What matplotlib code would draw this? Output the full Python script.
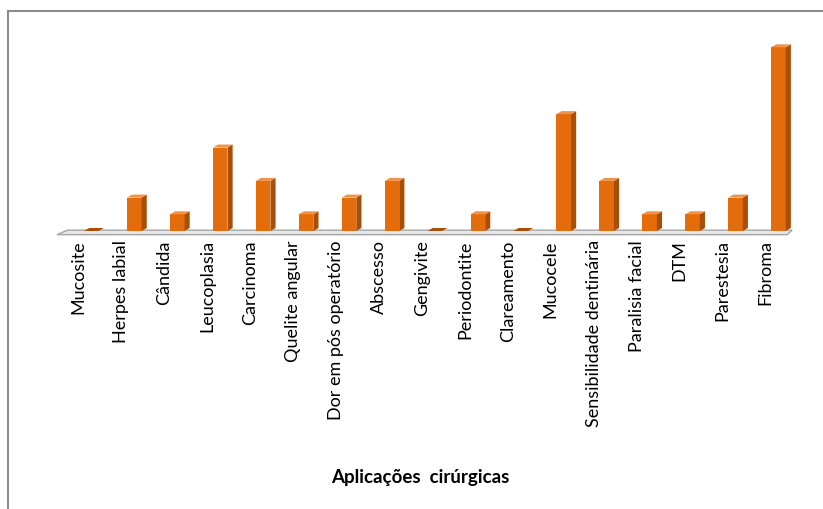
import matplotlib.pyplot as plt
from matplotlib.patches import Polygon, Rectangle

categorias = ["Mucosite", "Herpes labial", "Cândida", "Leucoplasia", "Carcinoma",
              "Quelite angular", "Dor em pós operatório", "Abscesso", "Gengivite",
              "Periodontite", "Clareamento", "Mucocele", "Sensibilidade dentinária",
              "Paralisia facial", "DTM", "Parestesia", "Fibroma"]
valores = [0, 2, 1, 5, 3, 1, 2, 3, 0, 1, 0, 7, 3, 1, 1, 2, 11]

frente = "#E46C0A"
lado = "#A94E06"
topo = "#F2914A"

fig = plt.figure(figsize=(8.23, 5.10), dpi=100)
ax = fig.add_axes([57/823, (510-232)/510, 730/823, 192/510])
n = len(categorias)
ax.set_xlim(-0.5, n - 0.5)
ax.set_ylim(0, 11.5)
ax.axis("off")

# profundidade do efeito 3D
dx, dy = 0.12, 0.18
w = 0.34
off = 0.3

# piso cinza
piso = Polygon([(-0.5, -0.22), (n - 0.5, -0.22), (n - 0.5 + dx, -0.22 + dy*1.5),
                (-0.5 + dx*2, dy*1.5 - 0.22)], closed=True,
               facecolor="#E6E6E6", edgecolor="#A6A6A6", lw=1, clip_on=False)
ax.add_patch(piso)

for i, v in enumerate(valores):
    x0 = i + off - w/2
    x1 = x0 + w
    if v > 0:
        ax.add_patch(Rectangle((x0, 0), w, v, facecolor=frente, edgecolor="none", clip_on=False))
        ax.add_patch(Polygon([(x1, 0), (x1 + dx, dy), (x1 + dx, v + dy), (x1, v)],
                             facecolor=lado, edgecolor="none", clip_on=False))
    ax.add_patch(Polygon([(x0, v), (x1, v), (x1 + dx, v + dy), (x0 + dx, v + dy)],
                         facecolor=topo if v > 0 else lado, edgecolor="none", clip_on=False))

for i, c in enumerate(categorias):
    ax.text(i, -0.5, c, rotation=90, ha="center", va="top", fontsize=13,
            family="Lato", color="#000000")

fig.text(420/823, 1 - 478/510, "Aplicações  cirúrgicas", ha="center", va="center",
         fontsize=13.5, fontweight="bold", family="Lato")

# borda do gráfico
fig.add_artist(plt.Line2D([8/823, 8/823], [0, 1 - 12/510], color="#8C8C8C", lw=1.5))
fig.add_artist(plt.Line2D([8/823, 1], [1 - 12/510, 1 - 12/510], color="#8C8C8C", lw=1.5))

fig.savefig("out.png", dpi=100)
